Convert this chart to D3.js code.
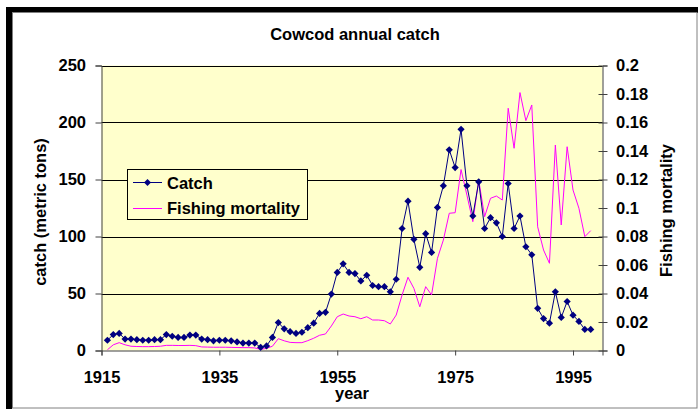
<!DOCTYPE html>
<html>
<head>
<meta charset="utf-8">
<script src="https://cdn.jsdelivr.net/npm/d3@7"></script>
<style>
  html, body { margin: 0; padding: 0; background: #fff; }
  svg { display: block; }
  text { font-family: Arial, "Liberation Sans", sans-serif; fill: #000; font-weight: bold; font-size: 16.5px; }
</style>
</head>
<body>
<svg id="chart" width="698" height="409"></svg>
<script>
const title = "Cowcod annual catch";
const xTickValues = [1915, 1935, 1955, 1975, 1995];
const leftTicks = [0, 50, 100, 150, 200, 250];
const rightTicks = [0, 0.02, 0.04, 0.06, 0.08, 0.1, 0.12, 0.14, 0.16, 0.18, 0.2];
const rightTickLabels = ["0", "0.02", "0.04", "0.06", "0.08", "0.1", "0.12", "0.14", "0.16", "0.18", "0.2"];

const years = [1916,1917,1918,1919,1920,1921,1922,1923,1924,1925,
  1926,1927,1928,1929,1930,1931,1932,1933,1934,1935,
  1936,1937,1938,1939,1940,1941,1942,1943,1944,1945,
  1946,1947,1948,1949,1950,1951,1952,1953,1954,1955,
  1956,1957,1958,1959,1960,1961,1962,1963,1964,1965,
  1966,1967,1968,1969,1970,1971,1972,1973,1974,1975,
  1976,1977,1978,1979,1980,1981,1982,1983,1984,1985,
  1986,1987,1988,1989,1990,1991,1992,1993,1994,1995,
  1996,1997,1998];

const catchTons = [9,14,15,10,10,9.5,9,9,9.5,9.5,
  14,12.5,11.5,11.5,13.5,13.5,10,9.5,8.5,9,
  9,8.5,7.5,6.5,6.5,6.5,2.8,4,11.5,24.5,
  19,16.5,15,16,20,24,32.5,33.5,49.5,68.5,
  76,68.5,67.5,61,66,57,56,56,51.5,62.5,
  107,131,97.5,73,102.5,86,125.5,144.5,176,160.5,
  194,144.5,118,148,107,116.5,112,100,146.5,107,
  118,91,84,37,28,24,51.5,29,43,31,
  25.5,18.5,18.5];

const fishingMortality = [0.0005,0.004,0.0055,0.004,0.003,0.0028,0.0027,0.0027,0.0028,0.003,
  0.0036,0.0036,0.0035,0.0035,0.0036,0.0034,0.0025,0.0024,0.0023,0.0023,
  0.0023,0.0022,0.0021,0.002,0.002,0.0018,0.0008,0.0015,0.003,0.0083,
  0.0068,0.0057,0.0055,0.0055,0.0069,0.0086,0.0107,0.0116,0.0172,0.0237,
  0.0256,0.0242,0.0237,0.0223,0.0237,0.0214,0.0214,0.0209,0.0186,0.0249,
  0.039,0.0514,0.0436,0.0307,0.0448,0.039,0.0647,0.0775,0.0963,0.0967,
  0.127,0.109,0.0904,0.1196,0.0939,0.1068,0.1084,0.1056,0.17,0.1419,
  0.181,0.1613,0.1723,0.0868,0.0705,0.0612,0.1442,0.0881,0.143,0.1126,
  0.0998,0.0799,0.0841];

const svg = d3.select("#chart");
const W = 698, H = 409;
const plot = { left: 101.5, right: 602.5, top: 65.5, bottom: 350.5 };

// Frame: white background, black shadow band top/left, grey border
svg.append("rect").attr("x", 0).attr("y", 0).attr("width", W).attr("height", H).attr("fill", "#fff");
svg.append("rect").attr("x", 6).attr("y", 7).attr("width", W - 6).attr("height", 6).attr("fill", "#000");
svg.append("rect").attr("x", 6).attr("y", 7).attr("width", 6).attr("height", H - 7).attr("fill", "#000");
svg.append("rect").attr("x", 12.5).attr("y", 12.5).attr("width", 684.5).attr("height", 395.5)
  .attr("fill", "#fff").attr("stroke", "#808080").attr("stroke-width", 1);

const x = d3.scaleLinear().domain([1915, 2000]).range([plot.left, plot.right]);
const yL = d3.scaleLinear().domain([0, 250]).range([plot.bottom, plot.top]);
const yR = d3.scaleLinear().domain([0, 0.2]).range([plot.bottom, plot.top]);

// plot background
svg.append("rect").attr("x", plot.left).attr("y", plot.top)
  .attr("width", plot.right - plot.left).attr("height", plot.bottom - plot.top)
  .attr("fill", "#FFFFCC");

// gridlines
svg.append("g").selectAll("line").data(leftTicks.filter(d => d > 0)).join("line")
  .attr("x1", plot.left).attr("x2", plot.right)
  .attr("y1", d => Math.round(yL(d)) + 0.5).attr("y2", d => Math.round(yL(d)) + 0.5)
  .attr("stroke", "#000").attr("stroke-width", 1);

const styleText = sel => sel.style("font-size", "16.5px").style("font-weight", "bold")
  .style("font-family", "Arial, 'Liberation Sans', sans-serif");

// Left axis
const axL = svg.append("g").attr("transform", `translate(${plot.left},0)`)
  .call(d3.axisLeft(yL).tickValues(leftTicks).tickSize(6).tickPadding(9.5).tickFormat(d3.format("d")));
axL.select(".domain").attr("stroke", "#404040");
axL.selectAll(".tick line").attr("stroke", "#404040");
styleText(axL.selectAll("text"));

// Right axis (cross ticks)
const axR = svg.append("g").attr("transform", `translate(${plot.right},0)`)
  .call(d3.axisRight(yR).tickValues(rightTicks).tickSize(5).tickPadding(8.5)
    .tickFormat((d, i) => rightTickLabels[i]));
axR.select(".domain").attr("stroke", "#404040");
axR.selectAll(".tick line").attr("stroke", "#404040").attr("x1", -4);
styleText(axR.selectAll("text"));

// Bottom axis
const axB = svg.append("g").attr("transform", `translate(0,${plot.bottom})`)
  .call(d3.axisBottom(x).tickValues(xTickValues).tickSize(5).tickPadding(15.5).tickFormat(d3.format("d")));
axB.select(".domain").attr("stroke", "#404040");
axB.selectAll(".tick line").attr("stroke", "#404040");
styleText(axB.selectAll("text"));

// Series
const catchData = years.map((yr, i) => ({ yr, v: catchTons[i] }));
const fmData = years.map((yr, i) => ({ yr, v: fishingMortality[i] }));

svg.append("path").datum(fmData)
  .attr("fill", "none").attr("stroke", "#FF00FF").attr("stroke-width", 1)
  .attr("d", d3.line().x(d => x(d.yr)).y(d => yR(d.v)));

svg.append("path").datum(catchData)
  .attr("fill", "none").attr("stroke", "#000080").attr("stroke-width", 1)
  .attr("d", d3.line().x(d => x(d.yr)).y(d => yL(d.v)));

const diamond = r => `M0,${-r}L${r},0L0,${r}L${-r},0Z`;
svg.append("g").selectAll("path").data(catchData).join("path")
  .attr("transform", d => `translate(${x(d.yr)},${yL(d.v)})`)
  .attr("d", diamond(3.6)).attr("fill", "#000080");

// Titles
svg.append("text").attr("x", 355).attr("y", 40).attr("text-anchor", "middle").text(title);
svg.append("text").attr("x", 352).attr("y", 399).attr("text-anchor", "middle").text("year");
svg.append("text").attr("transform", "translate(46,212) rotate(-90)").attr("text-anchor", "middle")
  .text("catch (metric tons)");
svg.append("text").attr("transform", "translate(672,210.5) rotate(-90)").attr("text-anchor", "middle")
  .text("Fishing mortality");

// Legend
const lg = svg.append("g");
lg.append("rect").attr("x", 127.5).attr("y", 169.5).attr("width", 180).attr("height", 50)
  .attr("fill", "#FFFFCC").attr("stroke", "#000").attr("stroke-width", 1);
lg.append("line").attr("x1", 133).attr("x2", 162).attr("y1", 182.5).attr("y2", 182.5)
  .attr("stroke", "#000080").attr("stroke-width", 1);
lg.append("path").attr("transform", "translate(147.5,182.5)").attr("d", diamond(3.5)).attr("fill", "#000080");
lg.append("text").attr("x", 167).attr("y", 188.5).text("Catch");
lg.append("line").attr("x1", 133).attr("x2", 162).attr("y1", 208.5).attr("y2", 208.5)
  .attr("stroke", "#FF00FF").attr("stroke-width", 1);
lg.append("text").attr("x", 167).attr("y", 214).text("Fishing mortality");
</script>
</body>
</html>
